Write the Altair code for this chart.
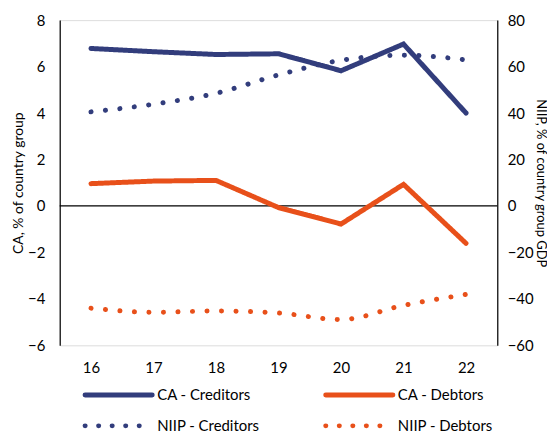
import altair as alt
import pandas as pd

years = ["16", "17", "18", "19", "20", "21", "22"]
ca_creditors = [6.78, 6.64, 6.52, 6.55, 5.82, 6.97, 4.0]
ca_debtors = [0.96, 1.07, 1.1, -0.07, -0.78, 0.93, -1.61]
niip_creditors = [40.5, 43.8, 48.5, 56.4, 62.7, 64.9, 62.9]
niip_debtors = [-44.0, -45.8, -45.2, -46.1, -48.9, -42.8, -38.1]

series = ["CA - Creditors", "CA - Debtors", "NIIP - Creditors", "NIIP - Debtors"]
colors = ["#323D7C", "#E8501A", "#323D7C", "#E8501A"]
dashes = [[1, 0], [1, 0], [0.1, 14.5], [0.1, 14.5]]
legend_dashes = [[1, 0], [1, 0], [0.1, 13.5], [0.1, 13.5]]

# legend layout: column / row of each entry
legend_col = [0, 1, 0, 1]
legend_row = [0, 0, 1, 1]
col_start = [25.5, 267.5]
symbol_len = 67.5
label_gap = 5

FONT = "Lato"
W, H = 440, 327

ca_df = pd.DataFrame({
    "year": years * 2,
    "value": ca_creditors + ca_debtors,
    "series": [series[0]] * 7 + [series[1]] * 7,
})
niip_df = pd.DataFrame({
    "year": years * 2,
    "value": niip_creditors + niip_debtors,
    "series": [series[2]] * 7 + [series[3]] * 7,
})
legend_df = pd.DataFrame({
    "entry": series,
    "x0": [col_start[c] for c in legend_col],
    "x1": [col_start[c] + symbol_len for c in legend_col],
    "lx": [col_start[c] + symbol_len + label_gap for c in legend_col],
    "row": legend_row,
})

x_scale = alt.Scale(paddingInner=1, paddingOuter=0.5)
x_enc = alt.X("year:N", sort=years, title=None, scale=x_scale,
              axis=alt.Axis(domain=False, ticks=False, labelAngle=0,
                            labelPadding=15, labelFontSize=15, labelFont=FONT,
                            labelColor="#000", grid=False))

line_color = alt.Color("series:N", sort=series,
                       scale=alt.Scale(domain=series, range=colors), legend=None)
dash_enc = alt.StrokeDash("series:N", sort=series,
                          scale=alt.Scale(domain=series, range=dashes), legend=None)

ca_lines = alt.Chart(ca_df).mark_line(strokeWidth=5, strokeCap="round").encode(
    x=x_enc,
    y=alt.Y("value:Q", title="CA, % of country group",
            scale=alt.Scale(domain=[-6, 8], nice=False, zero=False),
            axis=alt.Axis(values=list(range(-6, 9, 2)), ticks=False, grid=False,
                          domainColor="#000", domainWidth=1.2,
                          labelFontSize=15, labelFont=FONT, labelColor="#000",
                          labelPadding=15, titleFontSize=14, titleFont=FONT,
                          titleFontWeight="normal", titleColor="#000", titlePadding=2)),
    color=line_color,
    strokeDash=dash_enc,
)

zero_rule = alt.Chart(pd.DataFrame({"z": [0]})).mark_rule(color="#000", strokeWidth=1.2).encode(
    y=alt.Y("z:Q", scale=alt.Scale(domain=[-6, 8], nice=False, zero=False))
)

niip_lines = alt.Chart(niip_df).mark_line(strokeWidth=5, strokeCap="round",
                                          interpolate="monotone").encode(
    x=alt.X("year:N", sort=years, title=None, scale=x_scale, axis=None),
    y=alt.Y("value:Q", title="NIIP, % of country group GDP",
            scale=alt.Scale(domain=[-60, 80], nice=False, zero=False),
            axis=alt.Axis(orient="right", values=list(range(-60, 81, 20)), ticks=False,
                          grid=False, domainColor="#000", domainWidth=1.2,
                          labelFontSize=15, labelFont=FONT, labelColor="#000",
                          labelPadding=10, titleFontSize=13, titleFont=FONT,
                          titleFontWeight="normal", titleColor="#000", titlePadding=0)),
    color=line_color,
    strokeDash=dash_enc,
)

# legend drawn below the plot with its own scales
lx_scale = alt.Scale(domain=[0, W], range=[0, W], nice=False, zero=False)
ly_scale = alt.Scale(domain=[0, 1], range=[H + 50, H + 81], nice=False, zero=False)

leg_lines = alt.Chart(legend_df).mark_rule(strokeWidth=5, strokeCap="round").encode(
    x=alt.X("x0:Q", scale=lx_scale, axis=None),
    x2="x1:Q",
    y=alt.Y("row:Q", scale=ly_scale, axis=None),
    color=alt.Color("entry:N", sort=series,
                    scale=alt.Scale(domain=series, range=colors), legend=None),
    strokeDash=alt.StrokeDash("entry:N", sort=series,
                              scale=alt.Scale(domain=series, range=legend_dashes),
                              legend=None),
)
leg_text = alt.Chart(legend_df).mark_text(align="left", baseline="middle", fontSize=15,
                                          font=FONT, color="#000").encode(
    x=alt.X("lx:Q", scale=lx_scale, axis=None),
    y=alt.Y("row:Q", scale=ly_scale, axis=None),
    text="entry:N",
)

chart = alt.layer(
    alt.layer(zero_rule, ca_lines),
    niip_lines,
    alt.layer(leg_lines, leg_text),
).resolve_scale(
    x="independent", y="independent", color="independent", strokeDash="independent"
).properties(
    width=W, height=H,
    padding={"left": 3, "top": 4, "right": 0, "bottom": 0},
).configure_view(stroke=None).configure(font=FONT)

chart.save("out.html", embed_options={"renderer": "svg", "actions": False})
